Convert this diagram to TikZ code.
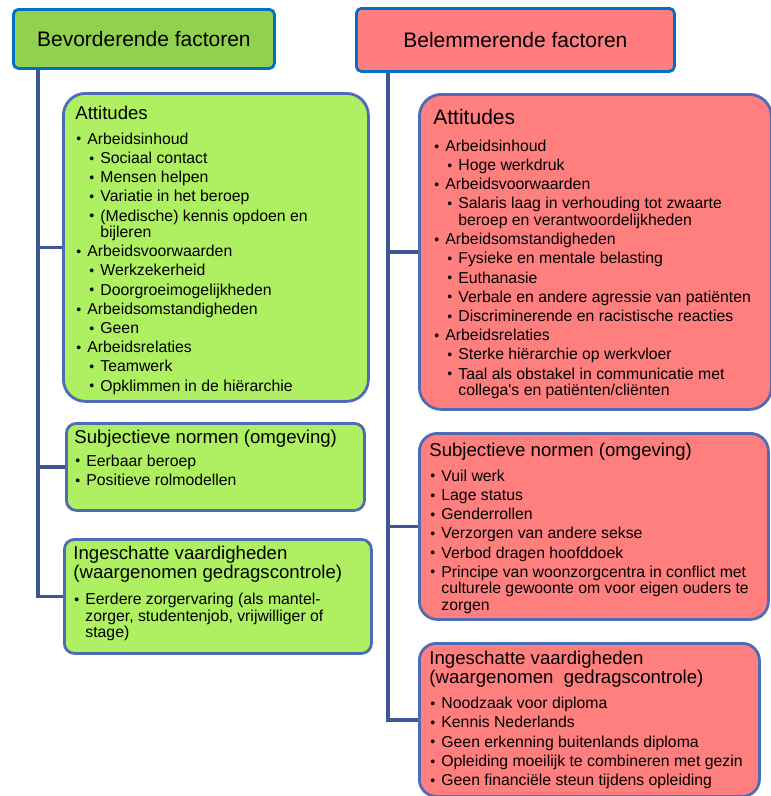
\documentclass[tikz,border=0pt]{standalone}
\usepackage{fontspec}
\setmainfont{Liberation Sans}[Ligatures=TeXOff]
\usetikzlibrary{calc}
\definecolor{kopgroen}{HTML}{92D050}
\definecolor{koprood}{HTML}{FF7C80}
\definecolor{blokgroen}{HTML}{AEF062}
\definecolor{blokrood}{HTML}{FF7F7F}
\definecolor{kopblauw}{HTML}{0070C0}
\definecolor{randblauw}{HTML}{4E6CB6}
\definecolor{takblauw}{HTML}{3F5694}

% inhoud van een blok
\newcommand{\inhoud}{\fontsize{15.8}{16.5}\selectfont\setlength{\parskip}{2.7pt}\raggedright}
\newcommand{\kopje}[3][5.8pt]{{\fontsize{#2}{19.5}\selectfont #3\par}\vspace{#1}}
\newcommand{\bolletje}{\raisebox{0.3pt}{\fontsize{14}{14}\selectfont\textbullet}}
\newcommand{\puntA}[1]{\par\hangindent=12pt\hangafter=1\noindent\makebox[12pt][l]{\hspace{1pt}\bolletje}#1\par}
\newcommand{\puntB}[1]{\par\hangindent=25pt\hangafter=1\noindent\hspace*{14pt}\makebox[11pt][l]{\bolletje}#1\par}

\begin{document}
\begin{tikzpicture}[
    x=1pt, y=-1pt,
    kop/.style={draw=kopblauw, line width=2.8pt, rounded corners=5pt, fill=#1,
                anchor=north west, inner sep=0pt, font=\fontsize{21}{24}\selectfont},
    blok/.style={draw=randblauw, line width=2.8pt, fill=#1, anchor=north west,
                 inner xsep=10pt, inner ysep=0pt, rounded corners=10pt},
    tak/.style={draw=takblauw, line width=3.2pt}
  ]
    \useasboundingbox (0,0) rectangle (771,796);

    % --- Links: bevorderend ---
    \node[kop=kopgroen, minimum width=261pt, minimum height=59pt] (kopG) at (12,8) {Bevorderende factoren};

    \node[blok=blokgroen, inner xsep=12pt, rounded corners=22pt] (gAtt) at (62,92)
      {\parbox[c][308pt][t]{281pt}{\inhoud\vspace*{9.7pt}%
        \kopje{18.6}{Attitudes}
        \puntA{Arbeidsinhoud}
        \puntB{Sociaal contact}
        \puntB{Mensen helpen}
        \puntB{Variatie in het beroep}
        \puntB{(Medische) kennis opdoen en\newline bijleren}
        \puntA{Arbeidsvoorwaarden}
        \puntB{Werkzekerheid}
        \puntB{Doorgroeimogelijkheden}
        \puntA{Arbeidsomstandigheden}
        \puntB{Geen}
        \puntA{Arbeidsrelaties}
        \puntB{Teamwerk}
        \puntB{Opklimmen in de hiërarchie}}};

    \node[blok=blokgroen, inner xsep=8pt] (gSub) at (65,422)
      {\parbox[c][87pt][t]{282pt}{\inhoud\vspace*{3.7pt}%
        \kopje[3.8pt]{18.6}{Subjectieve normen (omgeving)}
        \puntA{Eerbaar beroep}
        \puntA{Positieve rolmodellen}}};

    \node[blok=blokgroen, inner xsep=9pt] (gIng) at (63,538)
      {\parbox[c][114pt][t]{289pt}{\inhoud\vspace*{3.7pt}%
        \kopje[6.8pt]{18.6}{Ingeschatte vaardigheden\\(waargenomen gedragscontrole)}
        \puntA{Eerdere zorgervaring (als mantel-\newline zorger, studentenjob, vrijwilliger of\newline stage)}}};

    \coordinate (gStam) at ($(kopG.south west)+(26,0)$);
    \draw[tak] (gStam) |- (gAtt.west);
    \draw[tak] (gStam) |- (gSub.west);
    \draw[tak] (gStam) |- (gIng.west);

    % --- Rechts: belemmerend ---
    \node[kop=koprood, minimum width=318pt, minimum height=63pt] (kopR) at (355,7) {Belemmerende factoren};

    \node[blok=blokrood, inner xsep=14pt, rounded corners=22pt] (rAtt) at (418,93)
      {\parbox[c][315pt][t]{324pt}{\inhoud\vspace*{12pt}%
        \kopje[7.8pt]{21}{Attitudes}
        \puntA{Arbeidsinhoud}
        \puntB{Hoge werkdruk}
        \puntA{Arbeidsvoorwaarden}
        \puntB{Salaris laag in verhouding tot zwaarte\newline beroep en verantwoordelijkheden}
        \puntA{Arbeidsomstandigheden}
        \puntB{Fysieke en mentale belasting}
        \puntB{Euthanasie}
        \puntB{Verbale en andere agressie van patiënten}
        \puntB{Discriminerende en racistische reacties}
        \puntA{Arbeidsrelaties}
        \puntB{Sterke hiërarchie op werkvloer}
        \puntB{Taal als obstakel in communicatie met\newline collega's en patiënten/cliënten}}};

    \node[blok=blokrood, rounded corners=18pt] (rSub) at (418,432)
      {\parbox[c][186pt][t]{329pt}{\inhoud\vspace*{6.7pt}%
        \kopje{18.6}{Subjectieve normen (omgeving)}
        \puntA{Vuil werk}
        \puntA{Lage status}
        \puntA{Genderrollen}
        \puntA{Verzorgen van andere sekse}
        \puntA{Verbod dragen hoofddoek}
        \puntA{Principe van woonzorgcentra in conflict met\newline culturele gewoonte om voor eigen ouders te\newline zorgen}}};

    \node[blok=blokrood, rounded corners=17pt] (rIng) at (418,642)
      {\parbox[c][153pt][t]{320pt}{\inhoud\vspace*{4.7pt}%
        \kopje{18.6}{Ingeschatte vaardigheden\\(waargenomen\ \ gedragscontrole)}
        \puntA{Noodzaak voor diploma}
        \puntA{Kennis Nederlands}
        \puntA{Geen erkenning buitenlands diploma}
        \puntA{Opleiding moeilijk te combineren met gezin}
        \puntA{Geen financiële steun tijdens opleiding}}};

    \coordinate (rStam) at ($(kopR.south west)+(33,0)$);
    \draw[tak] (rStam) |- (rAtt.west);
    \draw[tak] (rStam) |- (rSub.west);
    \draw[tak] (rStam) |- (rIng.west);
  \end{tikzpicture}
\end{document}
